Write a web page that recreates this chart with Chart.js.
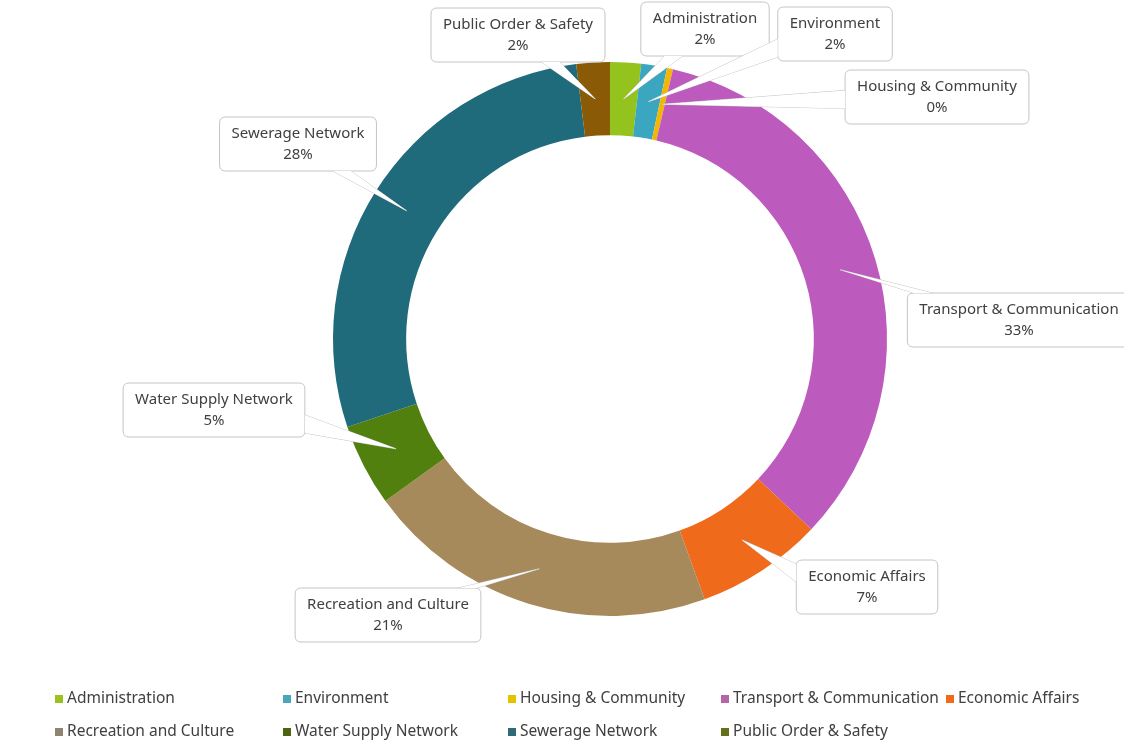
<!DOCTYPE html>
<html>
<head>
<meta charset="utf-8">
<script src="https://cdn.jsdelivr.net/npm/chart.js@4.4.0/dist/chart.umd.min.js"></script>
<style>
  body { margin: 0; background: #ffffff; }
  canvas { display: block; }
</style>
</head>
<body>
<canvas id="chartSpending" width="1124" height="746"></canvas>
<script>
// Spending split by sector (percent of total)
const categories = [
  'Administration', 'Environment', 'Housing & Community', 'Transport & Communication',
  'Economic Affairs', 'Recreation and Culture', 'Water Supply Network', 'Sewerage Network',
  'Public Order & Safety'
];
const shares = [1.8, 1.5, 0.35, 33.4, 7.4, 20.6, 4.8, 28.2, 1.95];

const sliceColors = ['#95c31e', '#3aa6bf', '#f2b705', '#bd5abe', '#f06a1c', '#a68a5c', '#51800f', '#1f6b7b', '#8a5a06'];
const legendColors = ['#9ac21a', '#4aa6b8', '#e3c300', '#b864a8', '#f06a1c', '#8f8470', '#4e6410', '#2e6a78', '#66701a'];

// callout box centres (canvas px)
const calloutPos = [
  [705, 29], [835, 34], [937, 97], [1019, 320], [867, 587],
  [388, 615], [214, 410], [298, 144], [518, 35]
];
// legend grid: marker x, row y
const legendSlots = [
  [55, 699], [283, 699], [508, 699], [721, 699], [946, 699],
  [55, 732], [283, 732], [508, 732], [721, 732]
];

const FONT = '15px "Noto Sans"';
const LEGEND_FONT = '15.5px "Noto Sans"';
const TEXT_COLOR = '#404040';

function roundRect(ctx, x, y, w, h, r) {
  ctx.beginPath();
  ctx.moveTo(x + r, y);
  ctx.lineTo(x + w - r, y);
  ctx.quadraticCurveTo(x + w, y, x + w, y + r);
  ctx.lineTo(x + w, y + h - r);
  ctx.quadraticCurveTo(x + w, y + h, x + w - r, y + h);
  ctx.lineTo(x + r, y + h);
  ctx.quadraticCurveTo(x, y + h, x, y + h - r);
  ctx.lineTo(x, y + r);
  ctx.quadraticCurveTo(x, y, x + r, y);
  ctx.closePath();
}

// where the pointer leaves the box: edge point on the line centre -> tip
function wedgeBase(x, y, w, h, tip) {
  const cx = x + w / 2, cy = y + h / 2;
  const dx = tip.x - cx, dy = tip.y - cy;
  const tx = dx !== 0 ? (w / 2) / Math.abs(dx) : Infinity;
  const ty = dy !== 0 ? (h / 2) / Math.abs(dy) : Infinity;
  const half = 9;
  if (ty < tx) {
    const px = Math.min(Math.max(cx + dx * ty, x + half + 4), x + w - half - 4);
    const py = cy + dy * ty;
    return [{ x: px - half, y: py }, { x: px + half, y: py }];
  }
  const px = cx + dx * tx;
  const py = Math.min(Math.max(cy + dy * tx, y + half + 4), y + h - half - 4);
  return [{ x: px, y: py - half }, { x: px, y: py + half }];
}

function wedgePath(ctx, a, tip, b) {
  ctx.beginPath();
  ctx.moveTo(a.x, a.y);
  ctx.lineTo(tip.x, tip.y);
  ctx.lineTo(b.x, b.y);
  ctx.closePath();
}

const calloutPlugin = {
  id: 'callouts',
  afterDatasetsDraw(chart) {
    const ctx = chart.ctx;
    const meta = chart.getDatasetMeta(0);
    const data = chart.data.datasets[0].data;
    const total = data.reduce((a, b) => a + b, 0);
    ctx.save();
    ctx.font = FONT;
    ctx.textAlign = 'center';
    ctx.textBaseline = 'middle';
    meta.data.forEach((arc, i) => {
      const tip = arc.tooltipPosition();
      const name = chart.data.labels[i];
      const pct = Math.round(data[i] / total * 100) + '%';
      const w = Math.max(ctx.measureText(name).width, ctx.measureText(pct).width) + 24;
      const h = 54;
      const x = calloutPos[i][0] - w / 2;
      const y = calloutPos[i][1] - h / 2;
      const [a, b] = wedgeBase(x, y, w, h, tip);

      ctx.lineWidth = 1;
      ctx.strokeStyle = '#c4c4c4';
      ctx.fillStyle = '#ffffff';
      wedgePath(ctx, a, tip, b);
      ctx.fill();
      ctx.stroke();
      roundRect(ctx, x, y, w, h, 6);
      ctx.fill();
      ctx.stroke();
      // blend pointer into box
      wedgePath(ctx, a, tip, b);
      ctx.fill();

      ctx.fillStyle = TEXT_COLOR;
      ctx.fillText(name, x + w / 2, y + 17);
      ctx.fillText(pct, x + w / 2, y + 38);
    });
    ctx.restore();
  }
};

const gridLegendPlugin = {
  id: 'gridLegend',
  afterDraw(chart) {
    const ctx = chart.ctx;
    ctx.save();
    ctx.font = LEGEND_FONT;
    ctx.textAlign = 'left';
    ctx.textBaseline = 'middle';
    chart.data.labels.forEach((name, i) => {
      const [lx, ly] = legendSlots[i];
      ctx.fillStyle = legendColors[i];
      ctx.fillRect(lx, ly - 4, 8, 8);
      ctx.fillStyle = TEXT_COLOR;
      ctx.fillText(name, lx + 12, ly);
    });
    ctx.restore();
  }
};

new Chart(document.getElementById('chartSpending'), {
  type: 'doughnut',
  data: {
    labels: categories,
    datasets: [{
      data: shares,
      backgroundColor: sliceColors,
      borderWidth: 0
    }]
  },
  options: {
    responsive: false,
    animation: false,
    events: [],
    cutout: '73.6%',
    layout: { padding: { left: 333, right: 237, top: 62, bottom: 130 } },
    plugins: {
      legend: { display: false },
      tooltip: { enabled: false }
    }
  },
  plugins: [calloutPlugin, gridLegendPlugin]
});
</script>
</body>
</html>
